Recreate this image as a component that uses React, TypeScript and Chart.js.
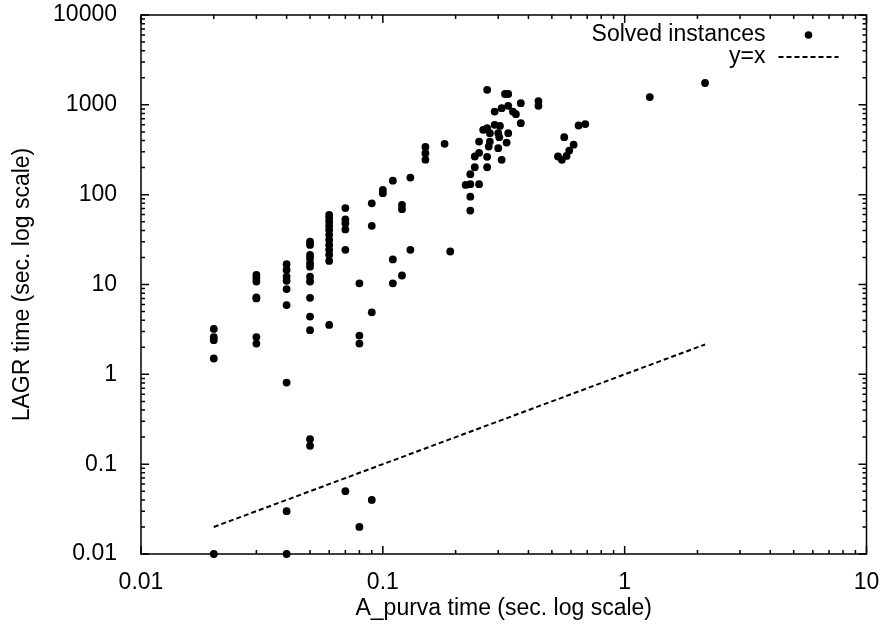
import { useEffect, useRef } from 'react';
import { Chart, registerables } from 'chart.js';

Chart.register(...registerables);

// A_purva time (x) and LAGR time (y), one entry per solved instance
const aPurvaTimes: number[] = [
  0.02, 0.02, 0.02, 0.02, 0.02,
  0.03, 0.03, 0.03, 0.03, 0.03, 0.03, 0.03,
  0.04, 0.04, 0.04, 0.04, 0.04, 0.04, 0.04, 0.04, 0.04,
  0.05, 0.05, 0.05, 0.05, 0.05, 0.05, 0.05, 0.05, 0.05, 0.05, 0.05, 0.05, 0.05,
  0.06, 0.06, 0.06, 0.06, 0.06, 0.06, 0.06, 0.06, 0.06, 0.06, 0.06, 0.06,
  0.07, 0.07, 0.07, 0.07, 0.07, 0.07,
  0.08, 0.08, 0.08, 0.08,
  0.09, 0.09, 0.09, 0.09,
  0.1, 0.1,
  0.11, 0.11, 0.11,
  0.12, 0.12, 0.12,
  0.13, 0.13,
  0.15, 0.15, 0.15,
  0.18, 0.19,
  0.22, 0.23, 0.23, 0.23, 0.23, 0.24, 0.24, 0.25, 0.25, 0.25,
  0.26, 0.27, 0.27, 0.27, 0.27, 0.274, 0.277, 0.277, 0.29, 0.29,
  0.3, 0.3, 0.303, 0.305, 0.31, 0.31, 0.32, 0.325, 0.33, 0.33, 0.33,
  0.345, 0.355, 0.372, 0.372, 0.44, 0.44,
  0.53, 0.55, 0.575, 0.59, 0.615, 0.5625, 0.645, 0.687,
  1.27, 2.15,
];

const lagrTimes: number[] = [
  3.2, 2.6, 2.4, 1.5, 0.01,
  12.8, 11.8, 10.8, 7.2, 7.0, 2.6, 2.2,
  16.8, 14.5, 12.2, 11.0, 8.9, 5.9, 0.81, 0.03, 0.01,
  30, 27.6, 21.4, 19.6, 17.3, 15.8, 12.2, 10.8, 7.1, 4.4, 3.1, 0.19, 0.16,
  59.6, 55, 49.8, 45, 40.6, 35.7, 31.4, 27.6, 24.3, 21.4, 18.3, 3.55,
  71, 53, 48, 41, 24.3, 0.05,
  10.3, 2.7, 2.2, 0.02,
  80, 45, 4.9, 0.04,
  113, 104,
  143, 19, 10.3,
  77, 69, 12.6,
  155, 24.3,
  340, 290, 245,
  368, 23.3,
  128.5, 169, 131, 95, 66.5, 266, 202, 390, 292, 131,
  527, 1469, 550, 264, 202, 343, 484, 390, 842, 599,
  484, 329, 437, 583, 919, 244, 1320, 380, 1320, 975, 484,
  842, 787, 1044, 625, 1100, 975,
  266, 244, 270, 310, 360, 437, 589, 610,
  1220, 1750,
];

// reference line y = x over the range of the data
const refLineX: number[] = [0.02, 2.15];

const xTickValues: number[] = [0.01, 0.1, 1, 10];
const xTickLabels: string[] = ['0.01', '0.1', '1', '10'];
const yTickValues: number[] = [0.01, 0.1, 1, 10, 100, 1000, 10000];
const yTickLabels: string[] = ['0.01', '0.1', '1', '10', '100', '1000', '10000'];

const seriesLabels: string[] = ['Solved instances', 'y=x'];
const xTitle = 'A_purva time (sec. log scale)';
const yTitle = 'LAGR time (sec. log scale)';

const FONT_FAMILY = '"Liberation Sans", Arial, sans-serif';
const FONT_SIZE = 23;

const framePlugin = {
  id: 'gnuplotFrame',
  beforeDatasetsDraw(chart: any) {
    const { ctx, chartArea } = chart;
    const xs = chart.scales.x;
    const ys = chart.scales.y;
    const { left, right, top, bottom } = chartArea;
    ctx.save();
    ctx.strokeStyle = '#000';
    ctx.lineWidth = 1.5;
    ctx.strokeRect(left, top, right - left, bottom - top);
    const major = 8;
    const minor = 4;
    ctx.beginPath();
    for (let e = -2; e <= 1; e++) {
      for (let m = 1; m <= 9; m++) {
        const v = m * Math.pow(10, e);
        if (v > 10.0001) continue;
        const px = xs.getPixelForValue(v);
        const len = m === 1 ? major : minor;
        ctx.moveTo(px, bottom);
        ctx.lineTo(px, bottom - len);
        ctx.moveTo(px, top);
        ctx.lineTo(px, top + len);
      }
    }
    for (let e = -2; e <= 4; e++) {
      for (let m = 1; m <= 9; m++) {
        const v = m * Math.pow(10, e);
        if (v > 10000.001) continue;
        const py = ys.getPixelForValue(v);
        const len = m === 1 ? major : minor;
        ctx.moveTo(left, py);
        ctx.lineTo(left + len, py);
        ctx.moveTo(right, py);
        ctx.lineTo(right - len, py);
      }
    }
    ctx.stroke();
    ctx.restore();
  },
  afterDraw(chart: any) {
    const { ctx, chartArea } = chart;
    const { right, top } = chartArea;
    ctx.save();
    ctx.font = `${FONT_SIZE}px ${FONT_FAMILY}`;
    ctx.fillStyle = '#000';
    ctx.textAlign = 'right';
    ctx.textBaseline = 'middle';
    const textRight = right - 101;
    const y1 = top + 20;
    const y2 = top + 42;
    ctx.fillText(seriesLabels[0], textRight, y1);
    ctx.fillText(seriesLabels[1], textRight, y2);
    ctx.beginPath();
    ctx.arc(right - 58, y1, 3.8, 0, Math.PI * 2);
    ctx.fill();
    ctx.strokeStyle = '#000';
    ctx.lineWidth = 2;
    ctx.setLineDash([5, 3]);
    ctx.beginPath();
    ctx.moveTo(right - 88, y2);
    ctx.lineTo(right - 28, y2);
    ctx.stroke();
    ctx.restore();
  },
};

const zeroPadding = (scale: any) => {
  scale.paddingTop = 0;
  scale.paddingBottom = 0;
  scale.paddingLeft = 0;
  scale.paddingRight = 0;
};

export default function App() {
  const canvasRef = useRef<HTMLCanvasElement | null>(null);

  useEffect(() => {
    if (!canvasRef.current) return;
    const points = aPurvaTimes.map((x, i) => ({ x, y: lagrTimes[i] }));
    const linePts = refLineX.map((x) => ({ x, y: x }));
    const font = { family: FONT_FAMILY, size: FONT_SIZE };
    const chart = new Chart(canvasRef.current, {
      type: 'scatter',
      data: {
        datasets: [
          {
            label: seriesLabels[0],
            data: points,
            backgroundColor: '#000',
            borderColor: '#000',
            pointRadius: 3.9,
            pointBorderWidth: 0,
            showLine: false,
            clip: false,
          } as any,
          {
            type: 'line',
            label: seriesLabels[1],
            data: linePts,
            borderColor: '#000',
            borderWidth: 2,
            borderDash: [5, 3],
            pointRadius: 0,
            fill: false,
          } as any,
        ],
      },
      options: {
        animation: false,
        responsive: true,
        maintainAspectRatio: false,
        layout: { padding: { top: 15, right: 17.5, left: 0, bottom: 0 } },
        plugins: {
          legend: { display: false },
          tooltip: { enabled: false },
        },
        scales: {
          x: {
            type: 'logarithmic',
            position: 'bottom',
            min: 0.01,
            max: 10,
            grid: { display: false },
            border: { display: false },
            afterBuildTicks: (scale: any) => {
              scale.ticks = xTickValues.map((v) => ({ value: v }));
            },
            afterFit: (scale: any) => {
              scale.height = 73;
              zeroPadding(scale);
            },
            ticks: {
              autoSkip: false,
              maxRotation: 0,
              color: '#000',
              font,
              padding: 7,
              callback: (_v: any, i: number) => xTickLabels[i],
            },
            title: {
              display: true,
              text: xTitle,
              color: '#000',
              font,
              padding: { top: 0, bottom: 5 },
            },
          },
          y: {
            type: 'logarithmic',
            position: 'left',
            min: 0.01,
            max: 10000,
            grid: { display: false },
            border: { display: false },
            afterBuildTicks: (scale: any) => {
              scale.ticks = yTickValues.map((v) => ({ value: v }));
            },
            afterFit: (scale: any) => {
              scale.width = 141;
              zeroPadding(scale);
            },
            ticks: {
              autoSkip: false,
              color: '#000',
              font,
              padding: 16,
              callback: (_v: any, i: number) => yTickLabels[i],
            },
            title: {
              display: true,
              text: yTitle,
              color: '#000',
              font,
              padding: { top: 9, bottom: 0 },
            },
          },
        },
      } as any,
      plugins: [framePlugin],
    });
    return () => chart.destroy();
  }, []);

  return (
    <div style={{ position: 'fixed', left: 0, top: 0, width: 884, height: 627, background: '#fff' }}>
      <canvas ref={canvasRef} />
    </div>
  );
}
